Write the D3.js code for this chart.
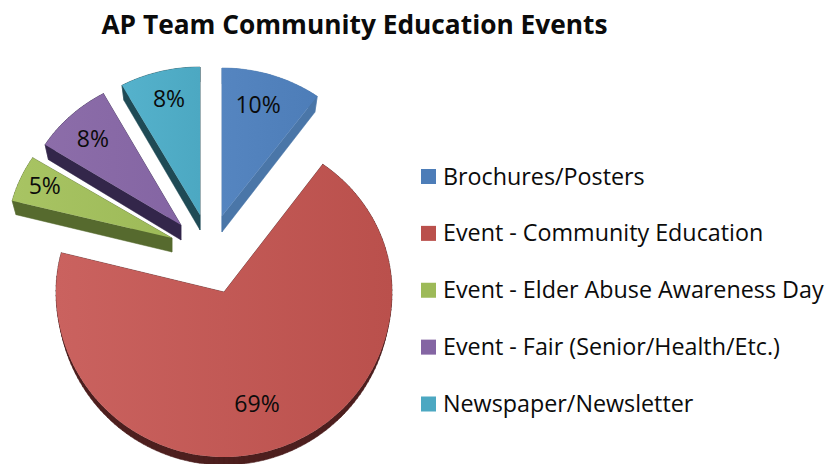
<!DOCTYPE html>
<html>
<head>
<meta charset="utf-8">
<script src="https://cdnjs.cloudflare.com/ajax/libs/d3/7.8.5/d3.min.js"></script>
<style>
  html, body { margin: 0; padding: 0; background: #fff; }
  svg { display: block; }
  text { font-family: "Open Sans", sans-serif; fill: #0b0b0b; }
</style>
</head>
<body>
<div id="viz"></div>
<script>
  const chartTitle = 'AP Team Community Education Events';
  const categories = ['Brochures/Posters', 'Event - Community Education', 'Event - Elder Abuse Awareness Day', 'Event - Fair (Senior/Health/Etc.)', 'Newspaper/Newsletter'];
  const values = [10, 69, 5, 8, 8];

  const topColors = [['#5585c0', '#4d7db8'], ['#ca625f', '#ba504c'], ['#a8c463', '#9dba58'], ['#8c6da9', '#8465a3'], ['#55b2cc', '#4ca8c2']];
  const sideColors = ['#4a76a8', '#4d1f1e', '#566a2e', '#33264a', '#1f4a55'];

  // exploded slice apex, radii of the squashed pie, wall depth, label placement
  const geometry = [
    { x: 222, y: 216, rx: 162, ryTop: 148, ryBottom: 148, depth: 16, shrink: 4, lx: 0.72, ly: 0.79 },
    { x: 224, y: 292, rx: 168, ryTop: 158, ryBottom: 165, depth: 8, shrink: 2, lx: 0.58, ly: 0.72 },
    { x: 172, y: 238, rx: 165, ryTop: 150, ryBottom: 150, depth: 14, shrink: 4, lx: 0.84, ly: 0.88 },
    { x: 181, y: 225, rx: 161, ryTop: 150, ryBottom: 150, depth: 15, shrink: 4, lx: 0.80, ly: 0.79 },
    { x: 200, y: 215, rx: 162, ryTop: 148, ryBottom: 148, depth: 15, shrink: 4, lx: 0.77, ly: 0.81 }
  ];

  const svg = d3.select('#viz').append('svg')
    .attr('width', 827)
    .attr('height', 464);

  const defs = svg.append('defs');
  topColors.forEach((c, i) => {
    const g = defs.append('linearGradient').attr('id', 'face' + i);
    g.append('stop').attr('offset', '0%').attr('stop-color', c[0]);
    g.append('stop').attr('offset', '100%').attr('stop-color', c[1]);
  });

  svg.append('text')
    .attr('x', 354.5)
    .attr('y', 34)
    .attr('text-anchor', 'middle')
    .style('font-size', '26.3px')
    .style('font-weight', 700)
    .text(chartTitle);

  const arcs = d3.pie().sort(null)(values);
  const line = d3.line();

  function outline(a, g, shrink, drop) {
    const steps = Math.max(2, Math.ceil((a.endAngle - a.startAngle) / 0.03));
    const pts = [];
    d3.range(steps + 1).forEach(k => {
      const t = a.startAngle + (a.endAngle - a.startAngle) * k / steps;
      const ry = Math.cos(t) > 0 ? g.ryTop : g.ryBottom;
      pts.push([g.x + (g.rx - shrink) * Math.sin(t), g.y + drop - ry * Math.cos(t)]);
    });
    return pts;
  }

  const slices = svg.selectAll('g.slice')
    .data(arcs)
    .enter()
    .append('g')
    .attr('class', 'slice');

  // wall: every step between the top outline and the dropped outline, plus both cut edges
  // all quads wound the same way so overlaps don't cancel under nonzero fill
  slices.append('path')
    .attr('d', (a, i) => {
      const g = geometry[i];
      const top = [[g.x, g.y]].concat(outline(a, g, 0, 0));
      const bottom = [[g.x, g.y + g.depth]].concat(outline(a, g, g.shrink, g.depth));
      return top.map((p, k) => {
        const n = (k + 1) % top.length;
        const quad = [p, top[n], bottom[n], bottom[k]];
        if (d3.polygonArea(quad) < 0) quad.reverse();
        return line(quad) + 'Z';
      }).join('');
    })
    .attr('fill', (a, i) => sideColors[i])
    .attr('stroke', (a, i) => sideColors[i])
    .attr('stroke-width', 0.5);

  slices.append('path')
    .attr('d', (a, i) => {
      const g = geometry[i];
      return line([[g.x, g.y]].concat(outline(a, g, 0, 0))) + 'Z';
    })
    .attr('fill', (a, i) => 'url(#face' + i + ')');

  slices.append('text')
    .attr('x', (a, i) => {
      const g = geometry[i];
      return g.x + g.rx * g.lx * Math.sin((a.startAngle + a.endAngle) / 2);
    })
    .attr('y', (a, i) => {
      const g = geometry[i];
      const m = (a.startAngle + a.endAngle) / 2;
      return g.y - (Math.cos(m) > 0 ? g.ryTop : g.ryBottom) * g.ly * Math.cos(m) + 8;
    })
    .attr('text-anchor', 'middle')
    .style('font-size', '23px')
    .text(d => d.value + '%');

  const legendY = d3.scalePoint()
    .domain(categories)
    .range([176.5, 404]);

  const legend = svg.selectAll('g.legend')
    .data(categories)
    .enter()
    .append('g')
    .attr('class', 'legend')
    .attr('transform', d => 'translate(421,' + legendY(d) + ')');

  legend.append('rect')
    .attr('y', -7.5)
    .attr('width', 15)
    .attr('height', 15)
    .attr('fill', (d, i) => topColors[i][1]);

  legend.append('text')
    .attr('x', 22)
    .attr('y', 8)
    .style('font-size', '23.3px')
    .text(d => d);
</script>
</body>
</html>
